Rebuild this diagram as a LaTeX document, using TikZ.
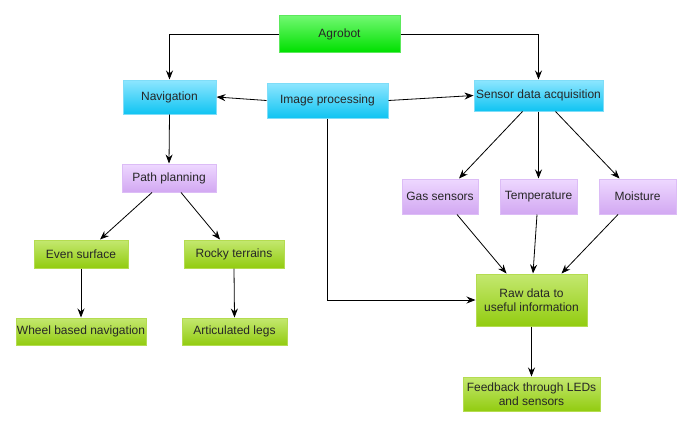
\documentclass[tikz,border=0pt]{standalone}
\usepackage{fontspec}
\setmainfont{Liberation Sans}
\usetikzlibrary{arrows.meta,shadings}
\definecolor{bluetop}{HTML}{8EE6FF}
\definecolor{bluebot}{HTML}{10C4F2}
\definecolor{blueline}{HTML}{7FDDF8}
\definecolor{greentop}{HTML}{70F870}
\definecolor{greenbot}{HTML}{00E000}
\definecolor{greenline}{HTML}{5CE85C}
\definecolor{limetop}{HTML}{C4E870}
\definecolor{limebot}{HTML}{92CC10}
\definecolor{limeline}{HTML}{B4DC50}
\definecolor{purptop}{HTML}{EED8FF}
\definecolor{purpbot}{HTML}{D2A8F2}
\definecolor{purpline}{HTML}{DCBCF6}
\tikzset{
  box/.style={rectangle, inner sep=0pt, font=\fontsize{12}{14}\selectfont, align=center, line width=1pt, text=black!85},
  bluebox/.style={box, draw=blueline, top color=bluetop, bottom color=bluebot},
  greenbox/.style={box, draw=greenline, top color=greentop, bottom color=greenbot},
  limebox/.style={box, draw=limeline, top color=limetop, bottom color=limebot},
  purpbox/.style={box, draw=purpline, top color=purptop, bottom color=purpbot},
  conn/.style={draw=black, line width=0.8pt, -{Stealth[length=9pt,width=7pt,inset=3pt]}}
}
\begin{document}
\begin{tikzpicture}[x=1pt,y=-1pt]
\useasboundingbox (0,0) rectangle (692,428);
\fill[white] (0,0) rectangle (692,428);
\node[greenbox, minimum width=121pt, minimum height=36pt] (agro) at (339.5,34) {Agrobot};
\node[bluebox, minimum width=93pt, minimum height=34pt] (nav) at (169.5,97) {Navigation};
\node[bluebox, minimum width=121pt, minimum height=35pt] (ip) at (327.5,100.5) {Image processing};
\node[bluebox, minimum width=129pt, minimum height=31pt] (sda) at (538.5,95.5) {Sensor data acquisition};
\node[purpbox, minimum width=94pt, minimum height=28pt] (pp) at (169,178) {Path planning};
\node[limebox, minimum width=94pt, minimum height=28pt] (even) at (81,254) {Even surface};
\node[limebox, minimum width=100pt, minimum height=28pt] (rocky) at (234,254) {Rocky terrains};
\node[limebox, minimum width=130pt, minimum height=27pt] (wheel) at (81,331.5) {Wheel based navigation};
\node[limebox, minimum width=105pt, minimum height=27pt] (art) at (234.5,331.5) {Articulated legs};
\node[purpbox, minimum width=76pt, minimum height=35pt] (gas) at (440,196.5) {Gas sensors};
\node[purpbox, minimum width=77pt, minimum height=35pt] (temp) at (538.5,196.5) {Temperature};
\node[purpbox, minimum width=77pt, minimum height=35pt] (moist) at (637.5,196.5) {Moisture};
\node[limebox, minimum width=111pt, minimum height=52pt] (raw) at (531.5,300) {Raw data to\\useful information};
\node[limebox, minimum width=137pt, minimum height=34pt] (fb) at (531.5,394) {Feedback through LEDs\\and sensors};

\draw[conn] (agro.west) -| (nav.north);
\draw[conn] (agro.east) -| (sda.north);
\draw[conn] (ip.west) -- (nav.east);
\draw[conn] (ip.east) -- (sda.west);
\draw[conn] (ip.south) |- (raw.west);
\draw[conn] ([xshift=-16pt]sda.south) -- ([xshift=19pt]gas.north);
\draw[conn] (sda.south) -- (temp.north);
\draw[conn] ([xshift=17pt]sda.south) -- ([xshift=-18pt]moist.north);
\draw[conn] ([xshift=17pt]gas.south) -- ([xshift=-25pt]raw.north);
\draw[conn] ([xshift=-1.5pt]temp.south) -- ([xshift=1.5pt]raw.north);
\draw[conn] ([xshift=-19.5pt]moist.south) -- ([xshift=30pt]raw.north);
\draw[conn] (raw.south) -- (fb.north);
\draw[conn] (nav.south) -- (pp.north);
\draw[conn] ([xshift=-17pt]pp.south) -- ([xshift=19pt]even.north);
\draw[conn] ([xshift=12pt]pp.south) -- ([xshift=-14pt]rocky.north);
\draw[conn] (even.south) -- (wheel.north);
\draw[conn] (rocky.south) -- (art.north);
\end{tikzpicture}
\end{document}
